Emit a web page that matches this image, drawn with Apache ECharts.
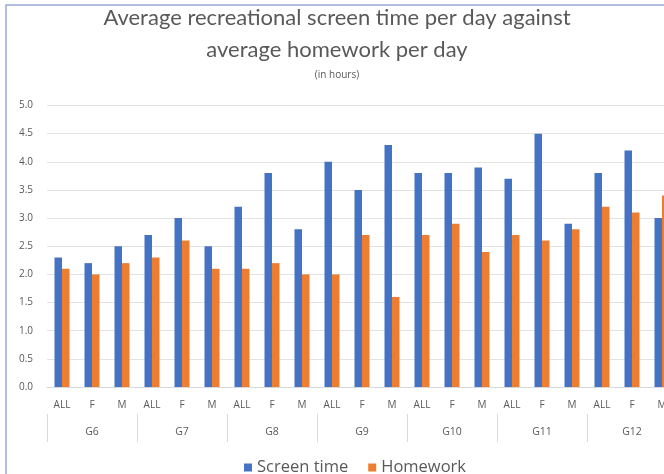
<!DOCTYPE html>
<html>
<head>
<meta charset="utf-8">
<script src="https://cdn.jsdelivr.net/npm/echarts@6/dist/echarts.min.js"></script>
<style>
html,body{margin:0;padding:0;background:#fff;}
#chart{width:664px;height:474px;}
</style>
</head>
<body>
<div id="chart"></div>
<script>
var groups = ['G6','G7','G8','G9','G10','G11','G12'];
var subCats = ['ALL','F','M'];
var screenTime = [2.3,2.2,2.5, 2.7,3.0,2.5, 3.2,3.8,2.8, 4.0,3.5,4.3, 3.8,3.8,3.9, 3.7,4.5,2.9, 3.8,4.2,3.0];
var homework   = [2.1,2.0,2.2, 2.3,2.6,2.1, 2.1,2.2,2.0, 2.0,2.7,1.6, 2.7,2.9,2.4, 2.7,2.6,2.8, 3.2,3.1,3.4];
var yTicks = ['0.0','0.5','1.0','1.5','2.0','2.5','3.0','3.5','4.0','4.5','5.0'];

var categories = [];
groups.forEach(function(){ subCats.forEach(function(s){ categories.push(s); }); });

var TFONT = 'Lato, "Open Sans", sans-serif';
var FONT = '"Open Sans", Lato, sans-serif';
var chart = echarts.init(document.getElementById('chart'));
chart.setOption({
  backgroundColor:'#fff',
  animation:false,
  color:['#4472C4','#ED7D31'],
  title:[
    {text:'Average recreational screen time per day against\naverage homework per day', left:332, textAlign:'center', top:-3,
     textStyle:{fontFamily:TFONT, fontSize:22, fontWeight:'normal', color:'#595959', lineHeight:32}},
    {text:'(in hours)', left:332, textAlign:'center', top:65,
     textStyle:{fontFamily:FONT, fontSize:10, fontWeight:'normal', color:'#595959'}}
  ],
  graphic:[{type:'rect', shape:{x:6,y:5,width:700,height:500}, style:{fill:'none', stroke:'#9AA6D8', lineWidth:1.5}, silent:true}],
  legend:{data:['Screen time','Homework'], left:239, top:454, itemWidth:8, itemHeight:8, itemGap:20, icon:'rect',
    textStyle:{fontFamily:FONT, fontSize:16.5, color:'#595959'}},
  grid:{left:47, width:630, top:105.5, bottom:87, containLabel:false, outerBoundsMode:'none'},
  xAxis:[
    {type:'category', data:categories, position:'bottom',
     axisLine:{lineStyle:{color:'#D9D9D9'}}, axisTick:{show:false},
     axisLabel:{interval:0, margin:13, fontFamily:FONT, fontSize:10, color:'#595959'}},
    {type:'category', data:groups, position:'bottom', offset:27,
     axisLine:{show:false}, axisTick:{show:true, length:28, interval:0, lineStyle:{color:'#D9D9D9'}},
     axisLabel:{interval:0, margin:13, fontFamily:FONT, fontSize:10.5, color:'#595959'}}
  ],
  yAxis:{type:'value', min:0, max:5, interval:0.5,
    axisLine:{show:false}, axisTick:{show:false},
    splitLine:{lineStyle:{color:'#E3E3E3'}},
    axisLabel:{margin:14, fontFamily:FONT, fontSize:10, color:'#595959',
      formatter:function(v){ return yTicks[Math.round(v/0.5)]; }}},
  series:[
    {name:'Screen time', type:'bar', xAxisIndex:0, data:screenTime, barWidth:7.5, barGap:'0%'},
    {name:'Homework', type:'bar', xAxisIndex:0, data:homework, barWidth:7.5, barGap:'0%'}
  ]
});
</script>
</body>
</html>
